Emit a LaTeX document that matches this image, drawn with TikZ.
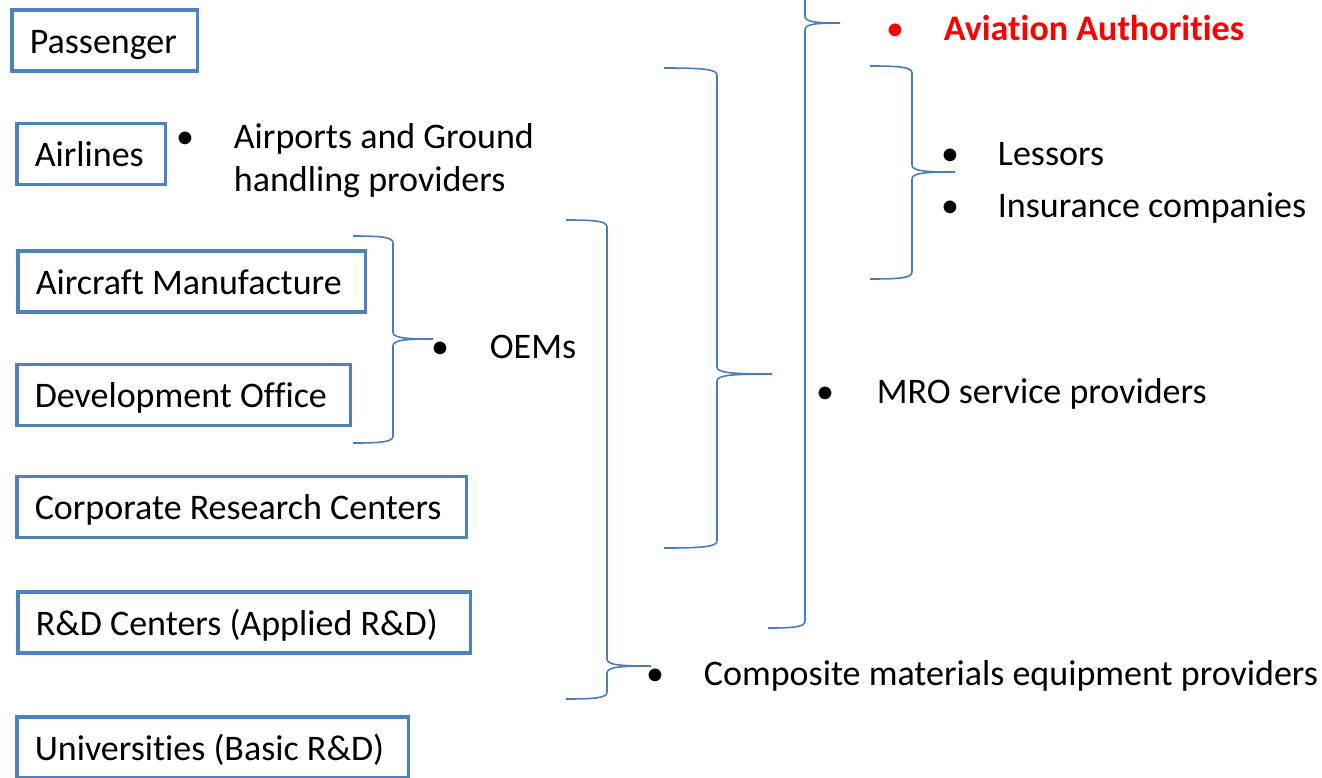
\documentclass[tikz,border=0pt]{standalone}
\usepackage{fontspec}
\setmainfont{Carlito}[Ligatures=NoCommon]
\usetikzlibrary{positioning}

\definecolor{boxblue}{HTML}{4F81BD}
\definecolor{curlblue}{HTML}{4A7EBB}
\definecolor{alertred}{HTML}{FF0000}

% right curly brace: left end x, spine x, tip x, top y, tip y, bottom y
\newcommand{\brcurl}[6]{%
  \draw[curl] (#1,#4) .. controls ({#1+0.7*(#2-#1)},#4) and (#2,#4+1) .. (#2,#4+7)
    -- (#2,#5-7) .. controls (#2,#5-1) and ({#2+0.3*(#3-#2)},#5) .. (#3,#5)
    .. controls ({#2+0.3*(#3-#2)},#5) and (#2,#5+1) .. (#2,#5+7)
    -- (#2,#6-7) .. controls (#2,#6-1) and ({#1+0.7*(#2-#1)},#6) .. (#1,#6);}

\tikzset{
  every node/.style={font=\fontsize{36}{37}\selectfont},
  actor/.style={draw=boxblue, line width=3.5pt, anchor=west, inner xsep=18pt,
    inner ysep=0pt, minimum height=61pt, text height=31pt, text depth=6pt},
  dot/.style={inner sep=0pt, anchor=base},
  item/.style={inner sep=0pt},
  curl/.style={draw=curlblue, line width=1.6pt}
}

\begin{document}
\begin{tikzpicture}[x=1pt,y=-1pt]

\useasboundingbox (0,0) rectangle (1322,777);
\clip (0,0) rectangle (1322,777);

% stakeholder boxes
\foreach \nm/\xx/\yy/\ww/\txt in {pass/10/40.5/149.5/Passenger, air/15/154/112.5/Airlines,
    acm/16/281.5/311.5/Aircraft Manufacture, dev/15/395/297.5/Development Office,
    crc/15/507/413.5/Corporate Research Centers, rdc/16/622.5/416.5/R\&D Centers (Applied R\&D),
    uni/15/747.5/355.5/Universities (Basic R\&D)}
  \node[actor] (\nm) at (\xx,\yy) {\makebox[\ww pt][l]{\txt}};

% bullets
\node[dot] (apdot) at (185,148) {\makebox[0pt]{•}};
\node[dot] (oemdot) at (440,358) {\makebox[0pt]{•}};
\node[dot] (cmpdot) at (655,685) {\makebox[0pt]{•}};
\node[dot] (mrodot) at (825,403) {\makebox[0pt]{•}};
\node[dot, text=alertred] (aadot) at (895,40) {\makebox[0pt]{•}};
\node[dot] (lesdot) at (950,165) {\makebox[0pt]{•}};
\node[dot] (insdot) at (950,217) {\makebox[0pt]{•}};

% bullet texts
\node[item, align=left, font=\fontsize{36}{43}\selectfont, base right=48pt of apdot, yshift=-43pt] (ap) {Airports and Ground\\handling providers};
\node[item, base right=49pt of oemdot] (oem) {OEMs};
\node[item, base right=48pt of cmpdot] (cmp) {Composite materials equipment providers};
\node[item, base right=51pt of mrodot] (mro) {MRO service providers};
\node[item, base right=48pt of aadot, text=alertred, font=\fontsize{36}{37}\selectfont\bfseries] (aa) {Aviation Authorities};
\node[item, base right=47pt of lesdot] (les) {Lessors};
\node[item, base right=47pt of insdot] (ins) {Insurance companies};

% braces
\brcurl{353}{393}{433}{236}{339}{443}
\brcurl{566}{607}{651}{220}{666}{699}
\brcurl{664}{717}{772}{68}{374}{548}
\brcurl{768}{805}{840}{-40}{23}{628}
\brcurl{870}{912}{955}{66}{172}{279}

\end{tikzpicture}
\end{document}
